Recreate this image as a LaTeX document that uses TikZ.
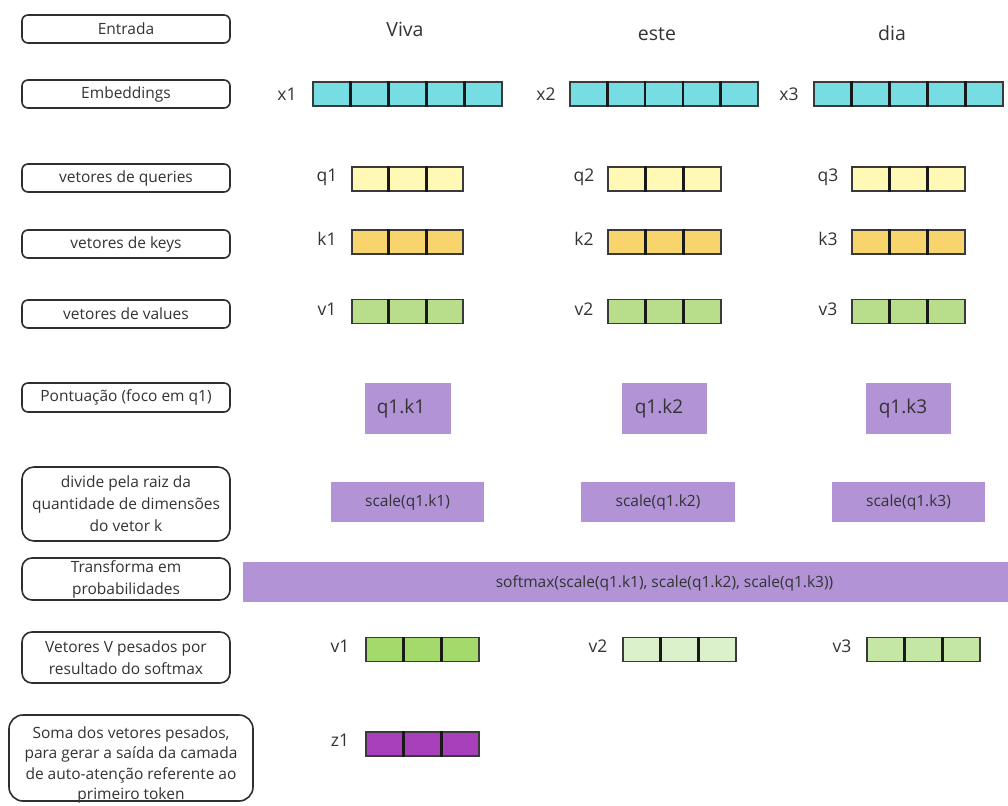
\documentclass[tikz,border=0pt]{standalone}
\usepackage{fontspec}
\setmainfont{Open Sans}
\usetikzlibrary{calc}
\definecolor{txt}{HTML}{333333}
\definecolor{boxline}{HTML}{2E2E2E}
\definecolor{vecline}{HTML}{3A3A3A}
\definecolor{cyanc}{HTML}{78DDE2}
\definecolor{qy}{HTML}{FFF9B5}
\definecolor{ky}{HTML}{F8D46C}
\definecolor{vg}{HTML}{B8DE8C}
\definecolor{purp}{HTML}{B193D6}
\definecolor{wa}{HTML}{A4D96C}
\definecolor{wb}{HTML}{DBF1CC}
\definecolor{wc}{HTML}{C4E7A6}
\definecolor{zc}{HTML}{A940BB}
\newcommand{\cellvec}[6]{%
  \node[vecbox, fill=#6, minimum width=#4pt] (#1) at (#2,#3) {};
  \pgfmathtruncatemacro{\cvlast}{#5-1}
  \foreach \cvi in {1,...,\cvlast}{
    \draw[divline] ($(#1.north west)!{\cvi/#5}!(#1.north east)$) -- ($(#1.south west)!{\cvi/#5}!(#1.south east)$);
  }
}
\begin{document}
\begin{tikzpicture}[x=1pt,y=-1pt,
  lbl/.style={draw=boxline, line width=1.6pt, rounded corners=6pt, minimum width=208pt,
    align=center, font=\fontsize{15.5}{22}\selectfont, text=txt, inner sep=0pt},
  vecbox/.style={draw=vecline, line width=1.4pt, minimum height=24pt, inner sep=0pt},
  divline/.style={draw=black!90, line width=2.8pt},
  vlab/.style={font=\fontsize{17.5}{20}\selectfont, text=txt, inner sep=0pt},
  word/.style={font=\fontsize{19.5}{22}\selectfont, text=txt, inner sep=0pt, anchor=base},
  pbox/.style={fill=purp, draw=none, inner sep=0pt, text=txt},
  small/.style={font=\fontsize{15.5}{18}\selectfont}
]
\useasboundingbox (0,0) rectangle (1008,805);
\fill[white] (0,0) rectangle (1008,805);

% row labels
\node[lbl, minimum height=28pt] (lEntrada) at (126,29) {Entrada};
\node[lbl, minimum height=28pt] (lEmb) at (126,94) {Embeddings};
\node[lbl, minimum height=28pt] (lQ) at (126,178) {vetores de queries};
\node[lbl, minimum height=28pt] (lK) at (126,244) {vetores de keys};
\node[lbl, minimum height=28pt] (lV) at (126,314) {vetores de values};
\node[lbl, minimum height=29pt] (lP) at (126,397.5) {Pontuação (foco em q1)};
\node[lbl, minimum height=74pt, rounded corners=12pt] (lD) at (126,504) {divide pela raiz da\\quantidade de dimensões\\do vetor k};
\node[lbl, minimum height=42pt, rounded corners=10pt] (lT) at (126,579) {Transforma em\\probabilidades};
\node[lbl, minimum height=51pt, rounded corners=10pt] (lW) at (126,657.5) {Vetores V pesados por\\resultado do softmax};
\node[lbl, minimum height=86pt, minimum width=244pt, rounded corners=14pt] (lS) at (131,758) {};
\node[align=center, font=\fontsize{15.5}{20.5}\selectfont, text=txt, inner sep=0pt] (lSt) at (131,765) {Soma dos vetores pesados,\\para gerar a saída da camada\\de auto-atenção referente ao\\primeiro token};

% words
\node[word] (w1) at (405,37) {Viva};
\node[word] (w2) at (657,41) {este};
\node[word] (w3) at (892,41) {dia};

% embeddings
\node[vlab] (lx1) at (287,94) {x1};
\node[vlab] (lx2) at (546,94) {x2};
\node[vlab] (lx3) at (789,94) {x3};
\cellvec{x1}{407.5}{94}{189}{5}{cyanc}
\cellvec{x2}{664}{94}{188}{5}{cyanc}
\cellvec{x3}{908.5}{94}{189}{5}{cyanc}

% queries
\node[vlab] (lq1) at (327,177) {q1};
\node[vlab] (lq2) at (584,177) {q2};
\node[vlab] (lq3) at (828,177) {q3};
\cellvec{q1}{407.5}{179}{111}{3}{qy}
\cellvec{q2}{664.5}{179}{113}{3}{qy}
\cellvec{q3}{908.5}{179}{113}{3}{qy}

% keys
\node[vlab] (lk1) at (327,239) {k1};
\node[vlab] (lk2) at (584,239) {k2};
\node[vlab] (lk3) at (828,239) {k3};
\cellvec{k1}{407.5}{242}{111}{3}{ky}
\cellvec{k2}{664.5}{242}{113}{3}{ky}
\cellvec{k3}{908.5}{242}{113}{3}{ky}

% values
\node[vlab] (lv1) at (327,309) {v1};
\node[vlab] (lv2) at (584,309) {v2};
\node[vlab] (lv3) at (828,309) {v3};
\cellvec{v1}{407.5}{311.5}{111}{3}{vg}
\cellvec{v2}{664.5}{311.5}{113}{3}{vg}
\cellvec{v3}{908.5}{311.5}{113}{3}{vg}

% scores
\node[pbox, minimum width=86pt, minimum height=51pt] (s1) at (408,408.5) {};
\node[pbox, minimum width=85pt, minimum height=51pt] (s2) at (664.5,408.5) {};
\node[pbox, minimum width=85pt, minimum height=51pt] (s3) at (908.5,408.5) {};
\node[vlab, font=\fontsize{19}{20}\selectfont] (t1) at (401,409) {q1.k1};
\node[vlab, font=\fontsize{19}{20}\selectfont] (t2) at (659,409) {q1.k2};
\node[vlab, font=\fontsize{19}{20}\selectfont] (t3) at (903,409) {q1.k3};

% scaled
\node[pbox, small, minimum width=153pt, minimum height=40pt] (c1) at (407.5,502) {scale(q1.k1)};
\node[pbox, small, minimum width=154pt, minimum height=40pt] (c2) at (658,502) {scale(q1.k2)};
\node[pbox, small, minimum width=153pt, minimum height=40pt] (c3) at (908.5,502) {scale(q1.k3)};

% softmax
\node[pbox, minimum width=800pt, minimum height=40pt, anchor=west] (sm) at (243,582) {};
\node[small, text=txt, inner sep=0pt] (smt) at (664.5,583) {softmax(scale(q1.k1), scale(q1.k2), scale(q1.k3))};

% weighted values
\node[vlab] (lw1) at (340,646) {v1};
\node[vlab] (lw2) at (598,646) {v2};
\node[vlab] (lw3) at (842,646) {v3};
\cellvec{wv1}{422.5}{649.5}{113}{3}{wa}
\cellvec{wv2}{679.5}{649.5}{113}{3}{wb}
\cellvec{wv3}{923.5}{649.5}{113}{3}{wc}

% output
\node[vlab] (lz1) at (340,740) {z1};
\cellvec{z1}{422.5}{744}{113}{3}{zc}
\end{tikzpicture}
\end{document}
